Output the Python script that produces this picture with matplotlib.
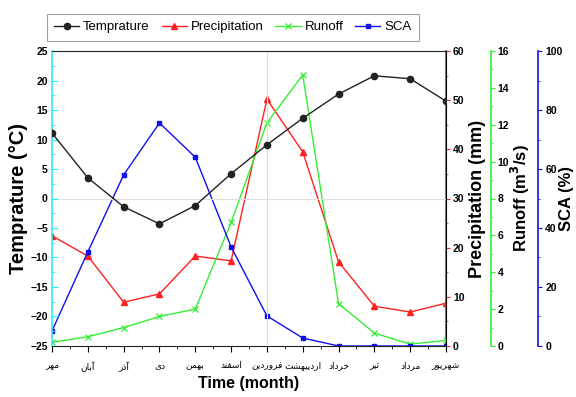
import matplotlib
matplotlib.use("Agg")
import matplotlib.pyplot as plt
from matplotlib.ticker import MultipleLocator

months = ['مهر', 'آبان', 'آذر', 'دی', 'بهمن', 'اسفند', 'فروردین',
          'اردیبهشت', 'خرداد', 'تیر', 'مرداد', 'شهریور']
temperature = [11.1, 3.5, -1.4, -4.3, -1.2, 4.2, 9.1, 13.6, 17.7, 20.8, 20.3, 16.5]
precipitation = [22.4, 18.3, 8.9, 10.6, 18.3, 17.3, 50.2, 39.5, 17.1, 8.1, 6.9, 8.7]
runoff = [0.2, 0.5, 1.0, 1.6, 2.0, 6.7, 12.1, 14.7, 2.3, 0.7, 0.1, 0.3]
sca = [5.1, 31.9, 58.0, 75.6, 64.0, 33.6, 10.2, 2.7, 0.0, 0.0, 0.0, 0.0]

FORMS = {
    'ا': ('\uFE8D', '\uFE8E', None, None),
    'آ': ('\uFE81', '\uFE82', None, None),
    'ب': ('\uFE8F', '\uFE90', '\uFE91', '\uFE92'),
    'ت': ('\uFE95', '\uFE96', '\uFE97', '\uFE98'),
    'خ': ('\uFEA5', '\uFEA6', '\uFEA7', '\uFEA8'),
    'د': ('\uFEA9', '\uFEAA', None, None),
    'ذ': ('\uFEAB', '\uFEAC', None, None),
    'ر': ('\uFEAD', '\uFEAE', None, None),
    'س': ('\uFEB1', '\uFEB2', '\uFEB3', '\uFEB4'),
    'ش': ('\uFEB5', '\uFEB6', '\uFEB7', '\uFEB8'),
    'ف': ('\uFED1', '\uFED2', '\uFED3', '\uFED4'),
    'ق': ('\uFED5', '\uFED6', '\uFED7', '\uFED8'),
    'م': ('\uFEE1', '\uFEE2', '\uFEE3', '\uFEE4'),
    'ن': ('\uFEE5', '\uFEE6', '\uFEE7', '\uFEE8'),
    'ه': ('\uFEE9', '\uFEEA', '\uFEEB', '\uFEEC'),
    'و': ('\uFEED', '\uFEEE', None, None),
    'ی': ('\uFBFC', '\uFBFD', '\uFBFE', '\uFBFF'),
}


def shape(word):
    out = []
    n = len(word)
    for i, c in enumerate(word):
        f = FORMS.get(c)
        if f is None:
            out.append(c)
            continue
        prev = FORMS.get(word[i - 1]) if i > 0 else None
        nxt = FORMS.get(word[i + 1]) if i < n - 1 else None
        jp = prev is not None and prev[2] is not None
        jn = f[2] is not None and nxt is not None
        if jp and jn:
            g = f[3]
        elif jp:
            g = f[1]
        elif jn:
            g = f[2]
        else:
            g = f[0]
        out.append(g)
    return ''.join(reversed(out))


plt.rcParams['font.family'] = ['Liberation Sans', 'DejaVu Sans']

fig = plt.figure(figsize=(5.76, 3.97), dpi=100)
ax = fig.add_axes([0.0903, 0.1285, 0.684, 0.743])
x = list(range(len(months)))

C_RED = '#ff2020'
C_GREEN = '#33ee33'
C_BLUE = '#1010ee'

ax2 = ax.twinx()
ax3 = ax.twinx()
ax4 = ax.twinx()
ax3.spines['right'].set_position(('axes', 1.114))
ax4.spines['right'].set_position(('axes', 1.234))

ax.axvline(6, color='#dddddd', lw=0.8, zorder=0)
ax.axhline(0, color='#dddddd', lw=0.8, zorder=0)

l1, = ax.plot(x, temperature, color='#222222', marker='o', ms=4.5, lw=1.0, label='Temprature', zorder=5)
l2, = ax2.plot(x, precipitation, color=C_RED, marker='^', ms=4.2, lw=1.0, label='Precipitation')
l3, = ax3.plot(x, runoff, color=C_GREEN, marker='x', ms=5, mew=0.9, lw=1.0, label='Runoff')
l4, = ax4.plot(x, sca, color=C_BLUE, marker='s', ms=3.5, lw=1.0, label='SCA')

ax.set_xlim(0, 11)
ax.set_ylim(-25, 25)
ax2.set_ylim(0, 60)
ax3.set_ylim(0, 16)
ax4.set_ylim(0, 100)

ax.set_xticks(x)
ax.set_xticklabels([shape(m) for m in months], fontsize=6.5, family=['DejaVu Sans'])
ax.xaxis.set_minor_locator(MultipleLocator(0.5))
ax.tick_params(axis='x', which='major', direction='out', length=4, pad=7)
ax.tick_params(axis='x', which='minor', direction='out', length=2)

ax.yaxis.set_major_locator(MultipleLocator(5))
ax.yaxis.set_minor_locator(MultipleLocator(2.5))
ax.tick_params(axis='y', which='major', direction='in', length=4, color='cyan', pad=3)
ax.tick_params(axis='y', which='minor', direction='in', length=2, color='cyan')
for t in ax.get_yticklabels():
    t.set_fontweight('bold')
    t.set_fontsize(7.5)
ax.spines['left'].set_color('#33e5ee')
ax.spines['left'].set_linewidth(1.2)
ax.spines['top'].set_color('#222222')
ax.spines['bottom'].set_color('#222222')

ax.set_ylabel('Temprature (°C)', fontsize=14.5, fontweight='bold')
ax.yaxis.set_label_coords(-0.085, 0.5)
ax.yaxis.label.set_va('center')
ax.set_xlabel('Time (month)', fontsize=11.5, fontweight='bold', labelpad=3)

for a, col, maj, mnr, lab, fs, lx in [
    (ax2, C_RED, 10, 5, 'Precipitation (mm)', 13, 1.079),
    (ax3, C_GREEN, 2, 1, 'Runoff (m$^\\mathbf{3}$/s)', 12, 1.188),
    (ax4, C_BLUE, 20, 10, 'SCA (%)', 12, 1.305),
]:
    a.yaxis.set_major_locator(MultipleLocator(maj))
    a.yaxis.set_minor_locator(MultipleLocator(mnr))
    a.spines['right'].set_color(col)
    a.spines['right'].set_linewidth(1.2)
    for s in ['top', 'bottom', 'left']:
        a.spines[s].set_visible(False)
    a.tick_params(axis='y', which='major', length=3, color=col, pad=2)
    a.tick_params(axis='y', which='minor', length=1.5, color=col)
    for t in a.get_yticklabels():
        t.set_fontweight('bold')
        t.set_fontsize(7.5)
    a.set_ylabel(lab, fontsize=fs, fontweight='bold')
    a.yaxis.set_label_coords(lx, 0.5)
    a.yaxis.label.set_va('center')

ax.set_zorder(ax4.get_zorder() + 1)
ax.patch.set_visible(False)

leg = ax.legend(handles=[l1, l2, l3, l4], loc='lower left', bbox_to_anchor=(-0.013, 1.035),
                ncol=4, fontsize=9.5, frameon=True, fancybox=False, edgecolor='#888888',
                handlelength=1.9, handletextpad=0.3, columnspacing=0.9, borderpad=0.55,
                borderaxespad=0)
leg.get_frame().set_linewidth(0.8)

fig.savefig('out.png', dpi=100)
